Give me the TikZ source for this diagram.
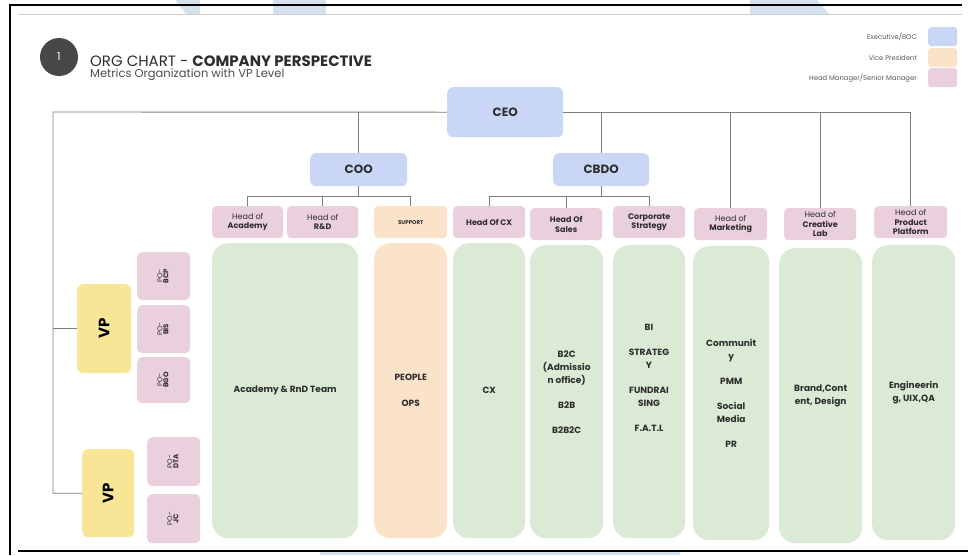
\documentclass[tikz,border=0pt]{standalone}
\usepackage{fontspec}
\setmainfont{Poppins}
\usepackage{xcolor}
\usepackage{tikz}
\usetikzlibrary{positioning, calc}

\definecolor{execblue}{RGB}{201,214,245}
\definecolor{headpink}{RGB}{234,208,221}
\definecolor{suporange}{RGB}{251,227,201}
\definecolor{teamgreen}{RGB}{218,234,212}
\definecolor{vpyellow}{RGB}{249,229,150}
\definecolor{linegray}{RGB}{125,125,125}
\definecolor{inkgray}{RGB}{45,45,45}
\definecolor{wmblue}{RGB}{212,226,239}

\newcommand{\potext}[1]{\rotatebox{90}{\begin{tabular}{@{}c@{}}PO-\\[-2pt]\textbf{#1}\end{tabular}}}

\begin{document}
\begin{tikzpicture}[x=1pt, y=-1pt]
		\tikzstyle{conn}=[draw=linegray, line width=0.9pt]
		\tikzstyle{exec}=[fill=execblue, rounded corners=6pt, inner sep=0pt, anchor=north west, text=inkgray, font=\bfseries\fontsize{12}{14}\selectfont]
		\tikzstyle{head}=[fill=headpink, rounded corners=4pt, inner sep=0pt, anchor=north west, align=center, text=inkgray, font=\fontsize{8}{9.5}\selectfont]
		\tikzstyle{team}=[fill=teamgreen, rounded corners=16pt, inner sep=0pt, anchor=north west, align=center, text=inkgray, font=\bfseries\fontsize{9}{13}\selectfont]
		\tikzstyle{vpbox}=[fill=vpyellow, rounded corners=6pt, inner sep=0pt, anchor=north west, font=\bfseries\fontsize{15}{17}\selectfont]
		\tikzstyle{pobox}=[fill=headpink, rounded corners=5pt, inner sep=0pt, anchor=north west, text=inkgray, font=\fontsize{7}{8}\selectfont]
		\tikzstyle{legbox}=[rounded corners=3pt, inner sep=0pt, anchor=north west, minimum width=29pt, minimum height=19pt]
		\tikzstyle{legtext}=[anchor=east, inner sep=0pt, text=black!65, font=\fontsize{6.8}{8}\selectfont]
		
		\useasboundingbox (0,0) rectangle (968,555);
		\fill[white] (0,0) rectangle (968,555);
		
		% page frame
		\fill[wmblue] (175,0) -- (200,0) -- (200,14) -- (186,14) -- cycle;
		\fill[wmblue] (273,0) rectangle (326,14);
		\fill[wmblue] (750,0) -- (817,0) -- (829,14) -- (750,14) -- cycle;
		\fill[wmblue] (320,552) rectangle (680,555);
		\draw[black, line width=1.2pt] (10,555) -- (10,5) -- (962,5);
		\draw[black!20, line width=0.8pt] (18,14) -- (962,14);
		\draw[black, line width=1.2pt] (18,551) -- (968,551);
		
		% title and legend
		\node (num) at (59,57) [circle, fill=black!72, minimum size=38pt, inner sep=0pt, text=white, font=\fontsize{11}{13}\selectfont] {1};
		\node (title) at (90,66) [anchor=base west, inner sep=0pt, text=inkgray, font=\fontsize{15}{17}\selectfont] {ORG CHART - \textbf{COMPANY PERSPECTIVE}};
		\node (subtitle) at (90,77) [anchor=base west, inner sep=0pt, text=inkgray!85, font=\fontsize{11.5}{13}\selectfont] {Metrics Organization with VP Level};
		
		\node (legexec) at (928,27) [legbox, fill=execblue] {};
		\node (legvp) at (928,48) [legbox, fill=suporange] {};
		\node (leghead) at (928,68) [legbox, fill=headpink] {};
		\node at (917,37) [legtext] {Executive/BOC};
		\node at (917,58) [legtext] {Vice President};
		\node at (917,78) [legtext] {Head Manager/Senior Manager};
		
		% executives
		\node (ceo) at (447,87) [exec, minimum width=116pt, minimum height=50pt] {CEO};
		\node (coo) at (310,153) [exec, minimum width=97pt, minimum height=33pt] {COO};
		\node (cbdo) at (553,153) [exec, minimum width=96pt, minimum height=33pt] {CBDO};
		
		% heads
		\node (hacad) at (212,206) [head, minimum width=71pt, minimum height=32pt] {Head of\\\textbf{Academy}};
		\node (hrnd) at (287,206) [head, minimum width=71pt, minimum height=32pt] {Head of\\\textbf{R\&D}};
		\node (hsup) at (374,206) [head, fill=suporange, minimum width=73pt, minimum height=32pt, font=\bfseries\fontsize{5.5}{6}\selectfont] {SUPPORT};
		\node (hcx) at (453,206) [head, minimum width=72pt, minimum height=32pt, font=\bfseries\fontsize{8}{9.5}\selectfont] {Head Of CX};
		\node (hsales) at (530,208) [head, minimum width=72pt, minimum height=32pt, font=\bfseries\fontsize{8}{9.5}\selectfont] {Head Of\\Sales};
		\node (hcorp) at (613,206) [head, minimum width=72pt, minimum height=32pt, font=\bfseries\fontsize{8}{9.5}\selectfont] {Corporate\\Strategy};
		\node (hmkt) at (694,208) [head, minimum width=73pt, minimum height=32pt] {Head of\\\textbf{Marketing}};
		\node (hcre) at (784,208) [head, minimum width=72pt, minimum height=32pt] {Head of\\\textbf{Creative}\\\textbf{Lab}};
		\node (hprod) at (874,206) [head, minimum width=73pt, minimum height=32pt] {Head of\\\textbf{Product}\\\textbf{Platform}};
		
		% teams
		\node (tacad) at (212,243) [team, minimum width=146pt, minimum height=295pt] {Academy \& RnD Team};
		\node (tpeople) at (374,243) [team, fill=suporange, minimum width=73pt, minimum height=295pt] {PEOPLE\\[13pt]OPS};
		\node (tcx) at (453,243) [team, minimum width=72pt, minimum height=295pt] {CX};
		\node (tsales) at (530,245) [team, minimum width=73pt, minimum height=293pt] {B2C\\(Admissio\\n office)\\[12pt]B2B\\[12pt]B2B2C};
		\node (tcorp) at (613,245) [team, minimum width=72pt, minimum height=293pt] {};
		\node (tcorptxt) at (649,378) [align=center, inner sep=0pt, text=inkgray, font=\bfseries\fontsize{9}{13}\selectfont] {BI\\[12pt]STRATEG\\Y\\[12pt]FUNDRAI\\SING\\[12pt]F.A.T.L};
		\node (tmkt) at (693,246) [team, minimum width=76pt, minimum height=294pt] {Communit\\y\\[12pt]PMM\\[12pt]Social\\Media\\[12pt]PR};
		\node (tcre) at (779,248) [team, minimum width=83pt, minimum height=295pt] {Brand,Cont\\ent, Design};
		\node (tprod) at (872,245) [team, minimum width=83pt, minimum height=295pt] {Engineerin\\g, UIX,QA};
		
		% vice presidents
		\node (vp1) at (77,284) [vpbox, minimum width=54pt, minimum height=89pt] {\rotatebox{90}{VP}};
		\node (vp2) at (82,449) [vpbox, minimum width=52pt, minimum height=88pt] {\rotatebox{90}{VP}};
		\node (pobcp) at (137,252) [pobox, minimum width=53pt, minimum height=48pt] {\potext{BCP}};
		\node (pobis) at (137,305) [pobox, minimum width=53pt, minimum height=48pt] {\potext{BIS}};
		\node (pobgo) at (137,357) [pobox, minimum width=53pt, minimum height=46pt] {\potext{BGO}};
		\node (podta) at (147,437) [pobox, minimum width=53pt, minimum height=49pt] {\potext{DTA}};
		\node (pojc) at (147,494) [pobox, minimum width=53pt, minimum height=49pt] {\potext{JC}};
		
		% connectors
		\coordinate (lft) at (53,112);
		\draw[conn] (ceo.west) -- (lft) |- (vp2.west);
		\draw[conn] (lft |- vp1.west) -- (vp1.west);
		\draw[conn] (ceo.east) -| (hprod.north);
		\foreach \n in {coo,cbdo,hmkt,hcre}
			\draw[conn] (\n.north) -- (\n.north |- ceo.west);
		
		\coordinate (coobus) at ($(coo.south)+(0,10)$);
		\draw[conn] (coo.south) -- (coobus);
		\draw[conn] (hacad.north) |- (coobus) -| (hsup.north);
		\draw[conn] (hrnd.north) -- (hrnd.north |- coobus);
		
		\coordinate (cbdobus) at ($(cbdo.south)+(0,10)$);
		\draw[conn] (cbdo.south) -- (cbdobus);
		\draw[conn] (hcx.north) |- (cbdobus) -| (hcorp.north);
		\draw[conn] (hsales.north) -- (hsales.north |- cbdobus);
		
\end{tikzpicture}
\end{document}
